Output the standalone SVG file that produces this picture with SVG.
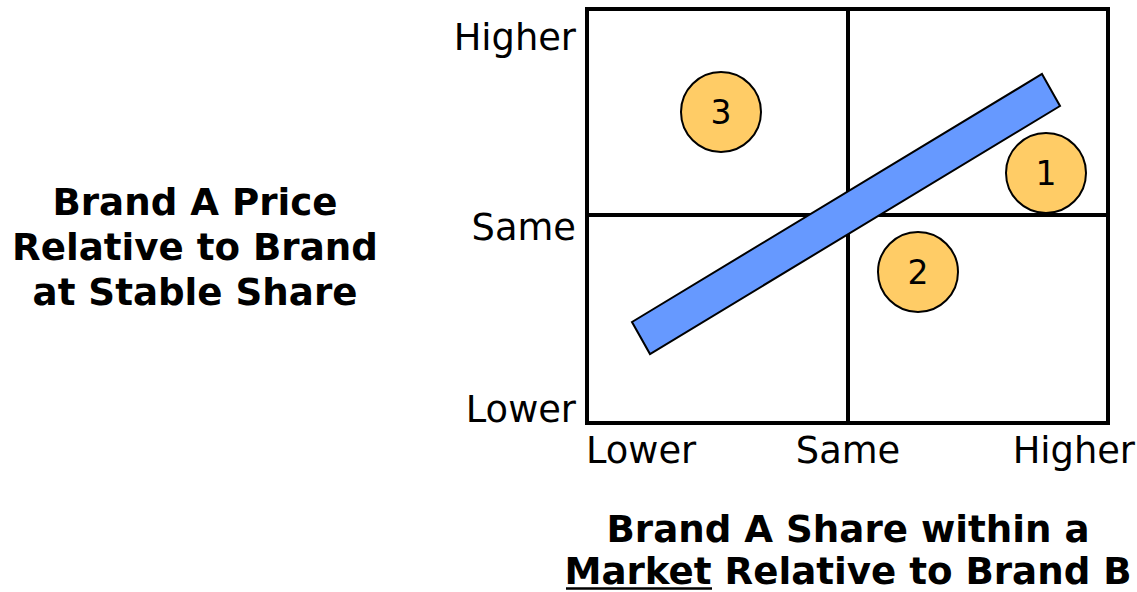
<svg xmlns="http://www.w3.org/2000/svg" width="1137" height="592" viewBox="0 0 1137 592">
<style>
.lbl{font-family:"DejaVu Sans",Verdana,sans-serif;font-size:36.8px;fill:#000}
.ttl{font-family:"DejaVu Sans",Verdana,sans-serif;font-size:37.2px;font-weight:bold;fill:#000}
.num{font-family:"DejaVu Sans",Verdana,sans-serif;font-size:33px;fill:#000;text-anchor:middle}
.dot{fill:#FFCC66;stroke:#000;stroke-width:2}
.grid{stroke:#000;stroke-width:4;fill:none}
</style>
<rect width="1137" height="592" fill="#fff"/>
<g id="grid">
<rect class="grid" x="587" y="9" width="521" height="414"/>
<line class="grid" x1="848" y1="9" x2="848" y2="423"/>
<line class="grid" x1="587" y1="215" x2="1108" y2="215"/>
</g>
<g id="bar">
<polygon points="1042,74 1060,106 650,354 632,322" fill="#6699FF" stroke="#000" stroke-width="2"/>
</g>
<g id="node3"><circle class="dot" cx="721" cy="112" r="40"/><text class="num" x="721" y="124">3</text></g>
<g id="node1"><circle class="dot" cx="1046" cy="173" r="40"/><text class="num" x="1046" y="185">1</text></g>
<g id="node2"><circle class="dot" cx="918" cy="272" r="40"/><text class="num" x="918" y="284">2</text></g>
<g id="yaxis">
<text class="lbl" x="576" y="50" text-anchor="end">Higher</text>
<text class="lbl" x="576" y="240" text-anchor="end">Same</text>
<text class="lbl" x="576" y="422" text-anchor="end">Lower</text>
</g>
<g id="xaxis">
<text class="lbl" x="586" y="463">Lower</text>
<text class="lbl" x="848" y="463" text-anchor="middle">Same</text>
<text class="lbl" x="1135" y="463" text-anchor="end">Higher</text>
</g>
<g id="ytitle">
<text class="ttl" x="195" y="215" text-anchor="middle">Brand A Price</text>
<text class="ttl" x="195" y="260" text-anchor="middle">Relative to Brand</text>
<text class="ttl" x="195" y="305" text-anchor="middle">at Stable Share</text>
</g>
<g id="xtitle">
<text class="ttl" x="848" y="542" text-anchor="middle">Brand A Share within a</text>
<text class="ttl" x="848" y="584" text-anchor="middle">Market Relative to Brand B</text>
<line x1="566" y1="588.5" x2="712" y2="588.5" stroke="#000" stroke-width="2.5"/>
</g>
</svg>
